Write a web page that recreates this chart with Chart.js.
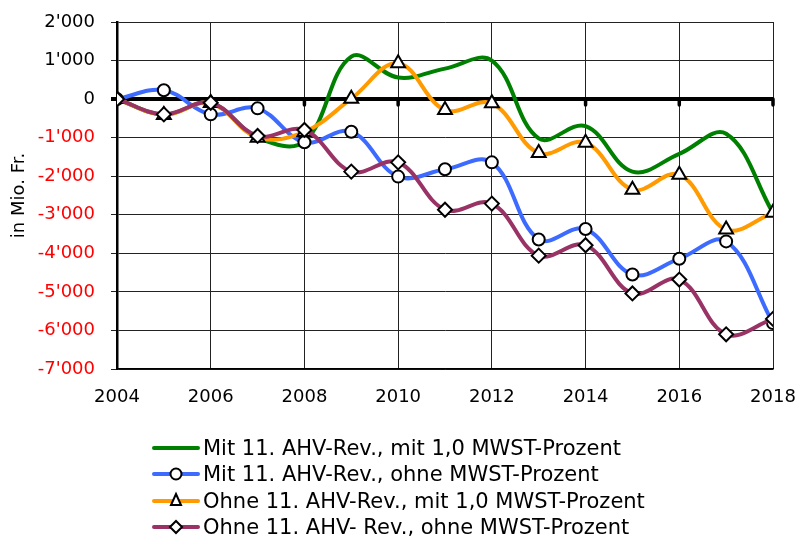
<!DOCTYPE html>
<html>
<head>
<meta charset="utf-8">
<script src="https://cdn.jsdelivr.net/npm/chart.js@4.4.1/dist/chart.umd.min.js"></script>
<style>
  html, body { margin: 0; padding: 0; background: #fff; }
  #wrap { position: relative; width: 798px; height: 537px; overflow: hidden; }
  #chartBox { position: absolute; left: 0; top: 0; width: 798px; height: 432px; }
  #legend { position: absolute; left: 152px; top: 435px; font-family: "DejaVu Sans"; font-size: 21px; color: #000; }
  .row { height: 26.3px; display: flex; align-items: center; white-space: nowrap; }
  .row canvas { margin-right: 3px; }
</style>
</head>
<body>
<div id="wrap">
  <div id="chartBox"><canvas id="myChart"></canvas></div>
  <div id="legend"></div>
</div>
<script>
// years on the x axis
const years = [2004, 2005, 2006, 2007, 2008, 2009, 2010, 2011, 2012, 2013, 2014, 2015, 2016, 2017, 2018];

// values in Mio. Fr.
const mitRevMitMwst   = [0, -400, -100, -1000, -1100, 1100, 560, 790, 1000, -1020, -700, -1880, -1420, -900, -2950];
const mitRevOhneMwst  = [0, 230, -395, -240, -1120, -845, -2010, -1820, -1640, -3640, -3370, -4550, -4140, -3690, -5810];
const ohneRevMitMwst  = [0, -410, -100, -1000, -850, 10, 930, -285, -110, -1400, -1130, -2350, -1960, -3385, -2950];
const ohneRevOhneMwst = [0, -395, -95, -955, -800, -1880, -1640, -2870, -2710, -4060, -3790, -5040, -4680, -6100, -5700];

const seriesNames = [
    "Mit 11. AHV-Rev., mit 1,0 MWST-Prozent",
    "Mit 11. AHV-Rev., ohne MWST-Prozent",
    "Ohne 11. AHV-Rev., mit 1,0 MWST-Prozent",
    "Ohne 11. AHV- Rev., ohne MWST-Prozent"
];
const seriesColors = ["#008000", "#3D6BFF", "#FF9A00", "#993366"];
const seriesMarkers = [false, "circle", "triangle", "rectRot"];

const yTicks = [2000, 1000, 0, -1000, -2000, -3000, -4000, -5000, -6000, -7000];

function fmt(v) {
    const s = Math.abs(v).toString().replace(/\B(?=(\d{3})+(?!\d))/g, "'");
    return (v < 0 ? "-" : "") + s;
}

function toPoints(values) {
    return values.map((v, i) => ({ x: years[i], y: v }));
}

// small marks on the zero line, like the original axis ticks
const zeroTicks = {
    id: 'zeroTicks',
    beforeDatasetsDraw(chart) {
        const { ctx, scales: { x, y } } = chart;
        const y0 = y.getPixelForValue(0);
        ctx.save();
        ctx.strokeStyle = '#000';
        ctx.lineWidth = 3.5;
        ctx.lineCap = 'round';
        x.ticks.forEach(t => {
            if (t.value === years[0]) return;
            const px = x.getPixelForValue(t.value);
            ctx.beginPath();
            ctx.moveTo(px, y0);
            ctx.lineTo(px, y0 + 6);
            ctx.stroke();
        });
        ctx.restore();
    }
};

const allValues = [mitRevMitMwst, mitRevOhneMwst, ohneRevMitMwst, ohneRevOhneMwst];
const markerSize = { circle: 6, triangle: 8, rectRot: 7 };

const datasets = allValues.map((vals, i) => ({
    label: seriesNames[i],
    data: toPoints(vals),
    borderColor: seriesColors[i],
    backgroundColor: '#fff',
    borderWidth: 4,
    tension: 0.38,
    order: 4 - i,
    pointStyle: seriesMarkers[i] || 'circle',
    pointRadius: seriesMarkers[i] ? markerSize[seriesMarkers[i]] : 0,
    pointBorderColor: '#000',
    pointBackgroundColor: '#fff',
    pointBorderWidth: 2
}));

const ctx = document.getElementById('myChart');
new Chart(ctx, {
    type: 'line',
    data: { datasets: datasets },
    plugins: [zeroTicks],
    options: {
        responsive: true,
        maintainAspectRatio: false,
        animation: false,
        layout: { padding: { top: 22, right: 25, left: 0, bottom: 0 } },
        plugins: {
            legend: { display: false },
            tooltip: { enabled: false }
        },
        scales: {
            x: {
                type: 'linear',
                min: 2004,
                max: 2018,
                afterFit(scale) {
                    scale.height = 63;
                    scale.paddingLeft = 0;
                    scale.paddingRight = 0;
                },
                ticks: {
                    stepSize: 2,
                    padding: 18,
                    color: '#000',
                    font: { family: 'DejaVu Sans', size: 18 },
                    callback: v => String(v)
                },
                grid: { color: '#222', lineWidth: 1, drawTicks: false },
                border: { color: '#000', width: 1.5 }
            },
            y: {
                min: -7000,
                max: 2000,
                afterFit(scale) {
                    scale.width = 117;
                    scale.paddingTop = 0;
                    scale.paddingBottom = 0;
                },
                afterBuildTicks(scale) { scale.ticks = yTicks.map(v => ({ value: v })); },
                title: {
                    display: true,
                    text: 'in Mio. Fr.',
                    color: '#000',
                    font: { family: 'DejaVu Sans', size: 18 },
                    padding: { top: 9 }
                },
                ticks: {
                    padding: 16,
                    color: c => (c.tick.value < 0 ? '#FF0000' : '#000'),
                    font: { family: 'DejaVu Sans', size: 18 },
                    callback: v => fmt(v)
                },
                grid: {
                    color: c => (c.tick && c.tick.value === 0 ? '#000' : '#222'),
                    lineWidth: c => (c.tick && c.tick.value === 0 ? 4 : 1),
                    tickLength: 6
                },
                border: { color: '#000', width: 2.5 }
            }
        }
    }
});

// legend: line sample with marker, then the text
function drawMarker(c, style, x, y) {
    c.fillStyle = '#fff';
    c.strokeStyle = '#000';
    c.lineWidth = 2;
    c.beginPath();
    if (style === 'circle') {
        c.arc(x, y, 5.5, 0, Math.PI * 2);
    } else if (style === 'triangle') {
        c.moveTo(x, y - 7);
        c.lineTo(x + 5, y + 4);
        c.lineTo(x - 5, y + 4);
        c.closePath();
    } else if (style === 'rectRot') {
        c.moveTo(x - 6, y);
        c.lineTo(x, y - 6);
        c.lineTo(x + 6, y);
        c.lineTo(x, y + 6);
        c.closePath();
    }
    c.fill();
    c.stroke();
}

const legend = document.getElementById('legend');
seriesNames.forEach((name, i) => {
    const row = document.createElement('div');
    row.className = 'row';
    const sample = document.createElement('canvas');
    sample.width = 48;
    sample.height = 20;
    const c = sample.getContext('2d');
    c.strokeStyle = seriesColors[i];
    c.lineWidth = 4;
    c.lineCap = 'round';
    c.beginPath();
    c.moveTo(2, 10);
    c.lineTo(46, 10);
    c.stroke();
    if (seriesMarkers[i]) drawMarker(c, seriesMarkers[i], 24, 10);
    const label = document.createElement('span');
    label.textContent = name;
    row.appendChild(sample);
    row.appendChild(label);
    legend.appendChild(row);
});
</script>
</body>
</html>
